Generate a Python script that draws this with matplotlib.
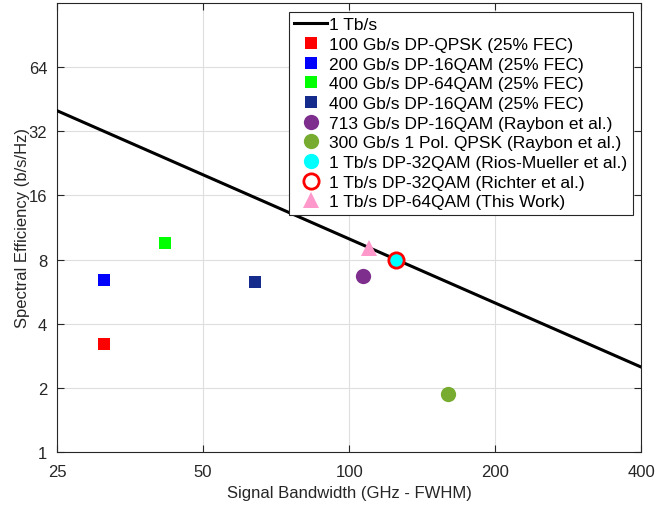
import numpy as np
import matplotlib
matplotlib.use("Agg")
import matplotlib.pyplot as plt

plt.rcParams['font.family'] = ['Liberation Sans', 'DejaVu Sans']

# 1 Tb/s reference line
line_bw = [25, 400]
line_rate = 1000.0  # Gb/s

labels = ["100 Gb/s DP-QPSK (25% FEC)",
          "200 Gb/s DP-16QAM (25% FEC)",
          "400 Gb/s DP-64QAM (25% FEC)",
          "400 Gb/s DP-16QAM (25% FEC)",
          "713 Gb/s DP-16QAM (Raybon et al.)",
          "300 Gb/s 1 Pol. QPSK (Raybon et al.)",
          "1 Tb/s DP-32QAM (Rios-Mueller et al.)",
          "1 Tb/s DP-32QAM (Richter et al.)",
          "1 Tb/s DP-64QAM (This Work)"]
bw = [31.3, 31.3, 41.7, 64.0, 107.0, 160.0, 125.0, 125.0, 110.0]
se = [3.2, 6.4, 9.6, 6.25, 6.66, 1.875, 8.0, 8.0, 9.1]

colors = ['#ff0000', '#0000ff', '#00ff00', '#162c8c', '#7e2f8e',
          '#77ac30', '#00ffff', '#ff0000', '#ff99cc']
markers = ['s', 's', 's', 's', 'o', 'o', 'o', 'o', '^']
sizes = [9, 9, 9, 9, 11, 11, 11, 11, 12]

fig = plt.figure(figsize=(6.58, 5.10), dpi=100)
ax = fig.add_axes([0.0866, 0.112, 0.888, 0.880])

x = np.array(line_bw, dtype=float)
ax.plot(x, line_rate / x, color='black', lw=2.2, label='1 Tb/s', zorder=3)

for i in range(len(labels)):
    if i == 7:
        ax.plot(bw[i], se[i], linestyle='none', marker='o', markersize=sizes[i],
                markerfacecolor='none', markeredgecolor=colors[i], markeredgewidth=2,
                label=labels[i], zorder=5)
    else:
        ax.plot(bw[i], se[i], linestyle='none', marker=markers[i], markersize=sizes[i],
                color=colors[i], markeredgewidth=0, label=labels[i], zorder=4)

ax.set_xscale('log', base=2)
ax.set_yscale('log', base=2)
ax.set_xlim(25, 400)
ax.set_ylim(1, 128)
xt = [25, 50, 100, 200, 400]
yt = [1, 2, 4, 8, 16, 32, 64]
ax.set_xticks(xt)
ax.set_xticklabels([str(v) for v in xt])
ax.set_yticks(yt)
ax.set_yticklabels([str(v) for v in yt])
ax.minorticks_off()
ax.tick_params(direction='in', top=True, right=True, labelsize=12, colors='#262626',
               length=5, width=0.8)
ax.tick_params(axis='x', pad=9)
ax.tick_params(axis='y', pad=7)
ax.grid(True, color='#dedede', lw=0.8)
ax.set_axisbelow(True)
for s in ax.spines.values():
    s.set_color('#262626')
    s.set_linewidth(0.8)

ax.set_xlabel('Signal Bandwidth (GHz - FWHM)', fontsize=12, color='#262626', labelpad=4)
ax.set_ylabel('Spectral Efficiency (b/s/Hz)', fontsize=12, color='#262626', labelpad=-1)

leg = ax.legend(loc='upper right', bbox_to_anchor=(0.985, 0.98), fontsize=12.5,
                frameon=True, fancybox=False, edgecolor='#262626', framealpha=1,
                handlelength=1.9, handletextpad=0.1, labelspacing=0.26,
                borderpad=0.3, borderaxespad=0)
leg.get_frame().set_linewidth(0.8)

fig.savefig('out.png', dpi=100)
